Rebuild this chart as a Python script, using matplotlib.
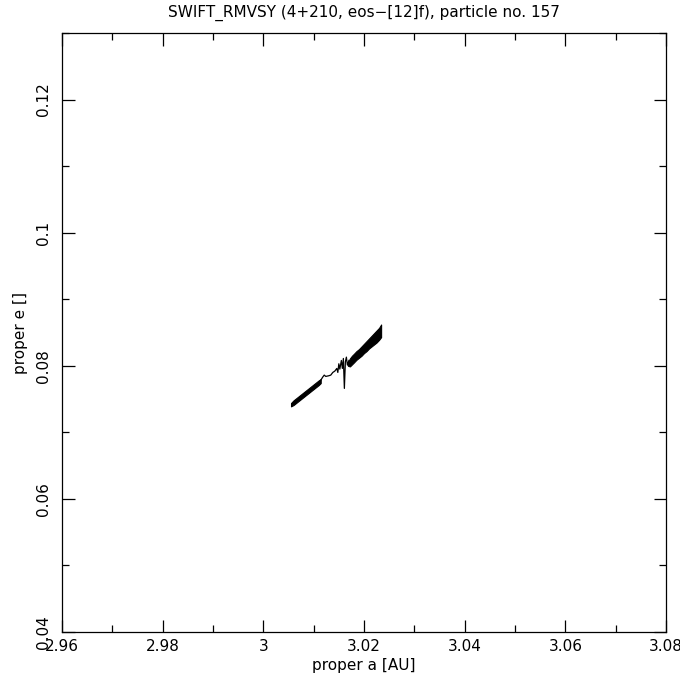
import matplotlib
matplotlib.use("Agg")
import matplotlib.pyplot as plt
from matplotlib.ticker import MultipleLocator

title = "SWIFT_RMVSY (4+210, eos\u2212[12]f), particle no. 157"
xlabel = "proper a [AU]"
ylabel = "proper e []"

# lower band: envelope of the dense trace
a_low = [3.0055, 3.0060, 3.0065, 3.0070, 3.0075, 3.0080, 3.0085, 3.0090, 3.0095,
         3.0100, 3.0105, 3.0110, 3.0114]
e_low_lo = [0.0739, 0.0741, 0.0744, 0.0747, 0.0750, 0.0753, 0.0756, 0.0759, 0.0762,
            0.0765, 0.0768, 0.0771, 0.0774]
e_low_hi = [0.0744, 0.0748, 0.0751, 0.0754, 0.0757, 0.0760, 0.0763, 0.0766, 0.0769,
            0.0772, 0.0775, 0.0778, 0.0780]

# thin middle trace with spike
a_mid = [3.0113, 3.0118, 3.0121, 3.0124, 3.0130, 3.0134, 3.0138, 3.0142, 3.0146,
         3.0148, 3.0150, 3.0152, 3.0155, 3.0157, 3.0159, 3.0161, 3.0163, 3.0165,
         3.0167, 3.0170]
e_mid = [0.0777, 0.0783, 0.0786, 0.0784, 0.0785, 0.0786, 0.0790, 0.0792, 0.0796,
         0.0790, 0.0803, 0.0795, 0.0808, 0.0796, 0.0811, 0.0766, 0.0806, 0.0813,
         0.0801, 0.0808]

# upper band: envelope of the dense trace
a_up = [3.0168, 3.0172, 3.0176, 3.0180, 3.0185, 3.0190, 3.0195, 3.0200, 3.0205,
        3.0210, 3.0215, 3.0220, 3.0225, 3.0230, 3.0234]
e_up_lo = [0.0800, 0.0799, 0.0802, 0.0805, 0.0809, 0.0812, 0.0815, 0.0819, 0.0822,
           0.0826, 0.0829, 0.0832, 0.0835, 0.0839, 0.0843]
e_up_hi = [0.0805, 0.0811, 0.0815, 0.0818, 0.0822, 0.0825, 0.0829, 0.0833, 0.0837,
           0.0841, 0.0845, 0.0849, 0.0853, 0.0857, 0.0862]

fig = plt.figure(figsize=(6.8, 6.8), dpi=100)
ax = fig.add_axes([62/680, 48/680, 604/680, 599/680])
ax.fill_between(a_low, e_low_lo, e_low_hi, color="black", lw=0.8, edgecolor="black")
ax.plot(a_mid, e_mid, color="black", lw=0.9)
ax.fill_between(a_up, e_up_lo, e_up_hi, color="black", lw=0.8, edgecolor="black")

ax.set_xlim(2.96, 3.08)
ax.set_ylim(0.04, 0.13)
ax.xaxis.set_minor_locator(MultipleLocator(0.01))
ax.yaxis.set_minor_locator(MultipleLocator(0.01))
ax.set_xticks([2.96, 2.98, 3.0, 3.02, 3.04, 3.06, 3.08])
ax.set_xticklabels(["2.96", "2.98", "3", "3.02", "3.04", "3.06", "3.08"])
ax.set_yticks([0.04, 0.06, 0.08, 0.1, 0.12])
ax.set_yticklabels(["0.04", "0.06", "0.08", "0.1", "0.12"])

for s in ax.spines.values():
    s.set_linewidth(0.9)
ax.tick_params(which="both", direction="in", top=True, right=True, width=0.9,
               labelsize=11, colors="black")
ax.tick_params(which="major", length=9)
ax.tick_params(which="minor", length=5)
ax.tick_params(axis="x", pad=5)
ax.tick_params(axis="y", pad=8)
for lab in ax.get_yticklabels():
    lab.set_rotation(90)
    lab.set_va("center")

ax.set_title(title, fontsize=11, pad=12)
ax.set_xlabel(xlabel, fontsize=11, labelpad=3)
ax.set_ylabel(ylabel, fontsize=11, labelpad=6)

fig.savefig("out.png", dpi=100)
